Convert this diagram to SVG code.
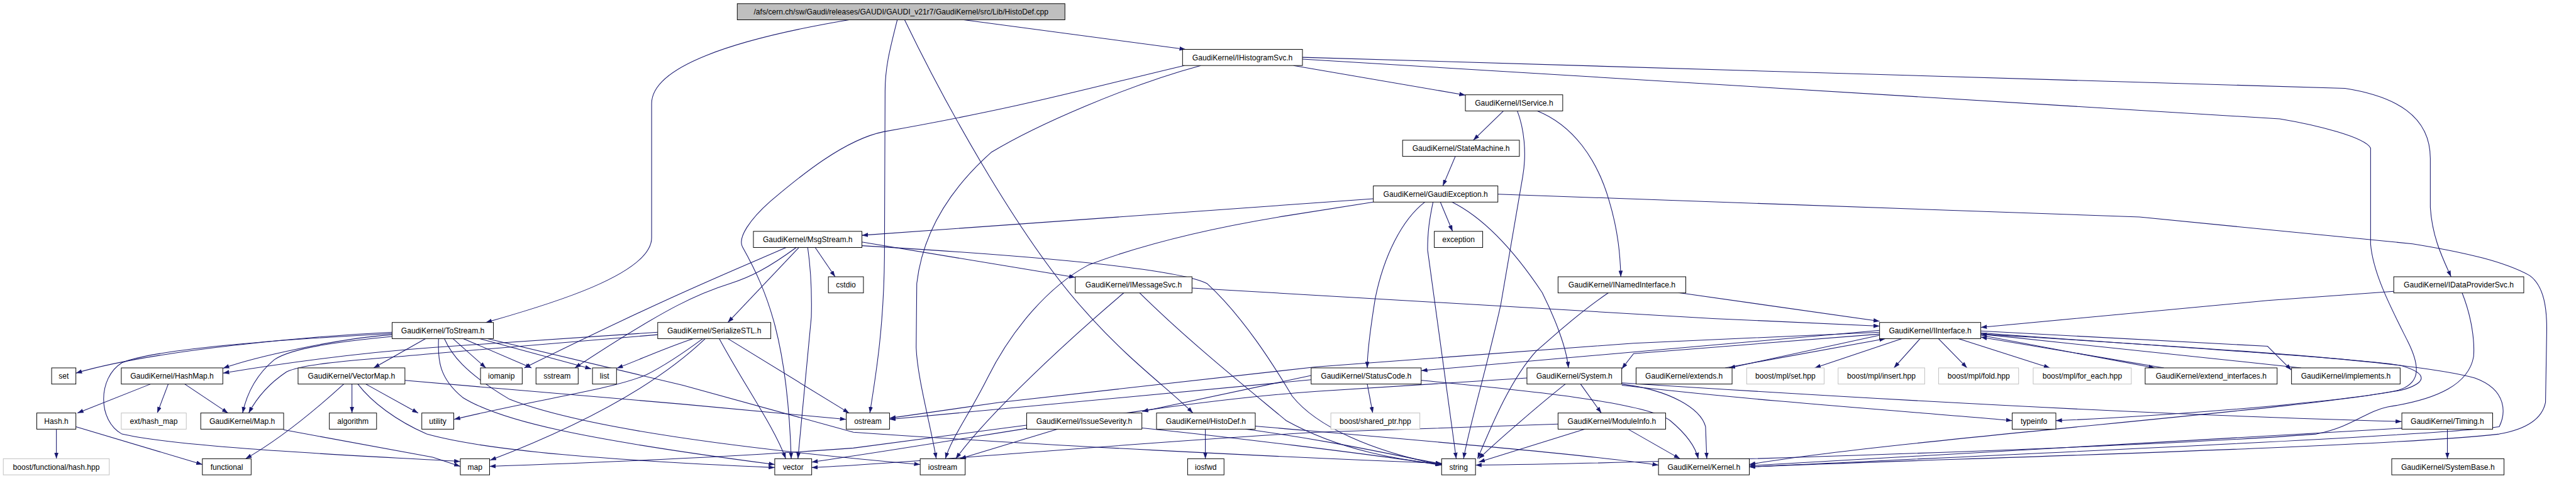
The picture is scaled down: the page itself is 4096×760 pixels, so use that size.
<svg xmlns="http://www.w3.org/2000/svg" width="4096" height="760" viewBox="0 0 4096 760">
<style>
.node rect{fill:#fff;stroke:#000;stroke-width:1}
.node.gray rect{stroke:#bfbfbf}
.node.root rect{fill:#bfbfbf}
.node text{font-family:"Liberation Sans","DejaVu Sans",Arial,sans-serif;font-size:12.5px;fill:#000;text-anchor:middle}
#edges path{fill:none;stroke:#191970;stroke-width:1.1;marker-end:url(#a)}
</style>
<defs>
<marker id="a" viewBox="0 0 10 7" refX="10" refY="3.5" markerWidth="10" markerHeight="7" orient="auto" markerUnits="userSpaceOnUse"><path d="M0,0L10,3.5L0,7z" fill="#191970"/></marker>
</defs>
<rect width="4096" height="760" fill="#fff"/>
<g transform="scale(0.96924)">
<g id="edges">
<path d="M1393,32.5 C1200,65 1069,110 1069,170 L1069,390 C1069,450 900,500 797,529"/>
<path d="M1472,32.5 C1460,80 1452,110 1452,150 L1451,420 C1450,540 1436,620 1427,677.5"/>
<path d="M1484,32.5 C1560,190 1680,400 1780,510 C1850,590 1920,640 1957,677.5"/>
<path d="M1581,32.5 L1945,81"/>
<path d="M2122,107.5 L2404,156"/>
<path d="M2136.7,94 L3847,145 C3930,158 3987,190 3987,260 L3987,340 C3990,390 4008,425 4021,454"/>
<path d="M2136.7,97 L3740,195 C3800,205 3880,225 3889,243 L3889,400 C3893,450 3925,510 3950,560 C3975,610 3965,630 3935,640 C3800,670 3100,722 2869.7,762"/>
<path d="M1943,107.5 C1776,147 1681,175 1450,216 C1380,230 1300,300 1264,330 C1230,360 1210,390 1218,405 C1260,480 1292,560 1298,752.5"/>
<path d="M1970,107.5 C1850,140 1700,205 1626,250 C1570,300 1515,370 1504,465 L1503,570 C1505,620 1525,690 1536,752.5"/>
<path d="M2467,181.5 L2417,230"/>
<path d="M2489,181.5 C2500,210 2505,250 2498,290 L2462,500 C2440,600 2410,700 2401,752.5"/>
<path d="M2521,181.5 C2580,205 2620,260 2640,330 C2655,380 2658,420 2659,454"/>
<path d="M2387.5,256.5 L2367,305"/>
<path d="M2362.7,331 L2383,379.5"/>
<path d="M2351,331 C2345,360 2342,380 2342,410 L2389,752.5"/>
<path d="M2338,331 C2300,360 2270,420 2256,490 C2248,540 2243,580 2243,603.5"/>
<path d="M2381,331 C2440,360 2490,420 2530,480 C2550,520 2570,570 2573,603.5"/>
<path d="M2457.3,318.5 L3510,356 L3958,400 C4050,415 4110,430 4150,452 C4175,470 4178,510 4178,540 L4176,660 C4170,690 4140,705 4100,712 C3900,735 3100,755 2869.7,766"/>
<path d="M2253,326 L1414,386"/>
<path d="M2253,331.5 L2110,354 C1950,380 1850,410 1785,435 C1720,470 1660,540 1620,620 C1590,680 1560,720 1551,752.5"/>
<path d="M1413.6,397 L1764,455"/>
<path d="M1413.6,403 C1700,420 1930,440 1980,465 C2040,520 2090,600 2120,650 C2160,700 2250,740 2365,763"/>
<path d="M1325,405.5 C1330,440 1332,480 1331,520 L1309,752.5"/>
<path d="M1337,405.5 L1370,454"/>
<path d="M1311,405.5 L1194,529"/>
<path d="M1291,405.5 C1200,445 1100,485 860,603.5"/>
<path d="M1307,405.5 C1260,440 1230,455 1198,465 C1150,480 1100,500 943,603.5"/>
<path d="M643.3,545 C500,552 250,575 124.5,612"/>
<path d="M643.3,549 C550,556 420,585 366,604"/>
<path d="M1079,545 L710,570 C600,578 500,590 366,612"/>
<path d="M643.3,552 C560,560 480,570 450,590 C420,615 405,645 398,677.5"/>
<path d="M1079,549 L710,580 C600,590 500,595 470,610 C440,630 420,655 408,677.5"/>
<path d="M698,555.5 L613,603.5"/>
<path d="M743,555.5 L797,603.5"/>
<path d="M760,555.5 L872,603.5"/>
<path d="M787,555.5 L970,605"/>
<path d="M800,555.5 L1120,632 L1400,709 C1700,730 2100,750 2365,760"/>
<path d="M719.5,555.5 C718,590 720,620 759,652 C820,690 950,720 1271,762"/>
<path d="M729,555.5 C740,580 760,610 836,655 C950,700 1200,735 1509.6,762"/>
<path d="M643.3,547 C500,555 260,570 200,595 C160,620 160,690 200,712 C300,735 600,748 755,757"/>
<path d="M465,705 L710,750 L755,765"/>
<path d="M564,630 C520,670 460,720 403,752.5"/>
<path d="M577.4,630 L577.4,677.5"/>
<path d="M600,630 L686,677.5"/>
<path d="M587,630 C610,660 650,690 700,712 C800,740 1000,755 1271,767"/>
<path d="M664,624 L1120,663 L1388,688"/>
<path d="M247,630 L127,677.5"/>
<path d="M276,630 L258,677.5"/>
<path d="M303,630 L374,677.5"/>
<path d="M92.5,704 L92.5,752.5"/>
<path d="M124.5,700 L332,762"/>
<path d="M1137,555.5 C1080,575 1050,590 1012,604"/>
<path d="M1153,555.5 C1120,580 1090,600 1060,615 C1000,640 880,655 745,688"/>
<path d="M1157,555.5 C1100,610 1000,680 804,755"/>
<path d="M1180,555.5 C1220,630 1270,700 1289,752.5"/>
<path d="M1194,555.5 L1393,677.5"/>
<path d="M1844,480 C1750,560 1620,680 1568,752.5"/>
<path d="M1869,480 C1950,560 2050,640 2110,690 C2200,740 2300,755 2365,762"/>
<path d="M1955.6,472.5 L2810,522.5 L3083.5,535"/>
<path d="M1735,704 L1575,752.5"/>
<path d="M1873.6,702 C2000,715 2250,745 2365,763"/>
<path d="M1684,697.5 L1400,735 C1200,750 950,760 803.2,765"/>
<path d="M1977.4,704 L1977.4,752.5"/>
<path d="M2043,704 C2200,725 2300,750 2365,761"/>
<path d="M2059.3,699 C2300,720 2600,745 2720.8,763"/>
<path d="M2151,616 L1873.6,675"/>
<path d="M2151,623 L1459.3,688"/>
<path d="M2243,630 L2252,677.5"/>
<path d="M2331.7,624 C2500,640 2700,660 2740,690 C2770,715 2782,735 2786,752.5"/>
<path d="M2593,630 L2627,677.5"/>
<path d="M2568,630 C2530,660 2460,720 2426,752.5"/>
<path d="M2660.6,630 C2740,640 2790,670 2798,700 L2800,752.5"/>
<path d="M2660.6,632 C2900,660 3200,680 3301,690"/>
<path d="M2660.6,628 C3000,650 3500,680 3940,691.5"/>
<path d="M2505,620 L2160,642 C1900,660 1600,720 1331.6,758"/>
<path d="M2600,704 L2426,758"/>
<path d="M2671,704 L2756,752.5"/>
<path d="M2556,695.7 L2160,709 C1800,730 1500,760 1331.6,767"/>
<path d="M4015,704 L4015,752.5"/>
<path d="M3940.3,702.5 C3500,725 3100,750 2869.7,764"/>
<path d="M3927,478 L3720,493 L3249.6,537"/>
<path d="M4039,480 C4055,520 4060,560 4058,585 C4050,630 4000,655 3917,667.5 C3880,675 3860,700 3800,712 C3500,735 2700,760 2420.6,763"/>
<path d="M2753,480 L3083.5,527"/>
<path d="M2639,480 C2580,520 2540,560 2521,575 C2480,620 2450,690 2424,752.5"/>
<path d="M3083.5,550 L2836.7,603.5"/>
<path d="M2830,603.5 L3093,555.5"/>
<path d="M3120,555.5 L2977,603.5"/>
<path d="M3150,555.5 L3107,603.5"/>
<path d="M3180,555.5 L3227,603.5"/>
<path d="M3213,555.5 L3363,603.5"/>
<path d="M3249.6,550 L3535,603.5"/>
<path d="M3550,603.5 L3249.6,553"/>
<path d="M3249.6,543 L3720,568 L3759,607"/>
<path d="M3775,603.5 L3249.6,548"/>
<path d="M3249.6,546 C3500,565 3900,590 3940,600 C3990,615 3975,630 3940,640 C3800,665 3500,685 3372.7,690"/>
<path d="M3249.6,548 C3600,570 3950,590 4060,620 C4115,640 4110,680 4100,700 C4000,715 3200,750 2869.7,766"/>
<path d="M3083.5,545 L2680,563 L2160,601.7 L1640,660 L1459.3,686"/>
<path d="M3083.5,542 L2331.7,608"/>
<path d="M3083.5,548 L2680,580 L2660.6,605"/>
</g>
<g id="n_root" class="node root"><rect x="1209.5" y="6" width="537.5" height="26.5"/><text x="1478.2" y="23.7">/afs/cern.ch/sw/Gaudi/releases/GAUDI/GAUDI_v21r7/GaudiKernel/src/Lib/HistoDef.cpp</text></g>
<g id="n_IHistogramSvc" class="node"><rect x="1940" y="81" width="196.7" height="26.5"/><text x="2038.3" y="98.7">GaudiKernel/IHistogramSvc.h</text></g>
<g id="n_IService" class="node"><rect x="2404" y="155.5" width="159.7" height="26.5"/><text x="2483.8" y="173.2">GaudiKernel/IService.h</text></g>
<g id="n_StateMachine" class="node"><rect x="2301" y="230" width="191.6" height="26.5"/><text x="2396.8" y="247.7">GaudiKernel/StateMachine.h</text></g>
<g id="n_GaudiException" class="node"><rect x="2253" y="305" width="204.3" height="26.5"/><text x="2355.1" y="322.7">GaudiKernel/GaudiException.h</text></g>
<g id="n_MsgStream" class="node"><rect x="1236" y="379.5" width="178" height="26.5"/><text x="1325" y="397.2">GaudiKernel/MsgStream.h</text></g>
<g id="n_exception" class="node"><rect x="2353" y="379.5" width="79.4" height="26.5"/><text x="2392.7" y="397.2">exception</text></g>
<g id="n_cstdio" class="node"><rect x="1359" y="454" width="57.5" height="26.5"/><text x="1387.7" y="471.7">cstdio</text></g>
<g id="n_IMessageSvc" class="node"><rect x="1764" y="454" width="191.5" height="26.5"/><text x="1859.7" y="471.7">GaudiKernel/IMessageSvc.h</text></g>
<g id="n_INamedInterface" class="node"><rect x="2556" y="454" width="209.6" height="26.5"/><text x="2660.8" y="471.7">GaudiKernel/INamedInterface.h</text></g>
<g id="n_IDataProviderSvc" class="node"><rect x="3927" y="454" width="213.3" height="26.5"/><text x="4033.6" y="471.7">GaudiKernel/IDataProviderSvc.h</text></g>
<g id="n_ToStream" class="node"><rect x="643.3" y="529" width="166.2" height="26.5"/><text x="726.4" y="546.7">GaudiKernel/ToStream.h</text></g>
<g id="n_SerializeSTL" class="node"><rect x="1079" y="529" width="185.5" height="26.5"/><text x="1171.7" y="546.7">GaudiKernel/SerializeSTL.h</text></g>
<g id="n_IInterface" class="node"><rect x="3083.5" y="529" width="166" height="26.5"/><text x="3166.5" y="546.7">GaudiKernel/IInterface.h</text></g>
<g id="n_set" class="node"><rect x="84.7" y="603.5" width="39.8" height="26.5"/><text x="104.6" y="621.2">set</text></g>
<g id="n_HashMap" class="node"><rect x="199" y="603.5" width="166.5" height="26.5"/><text x="282.2" y="621.2">GaudiKernel/HashMap.h</text></g>
<g id="n_VectorMap" class="node"><rect x="489" y="603.5" width="175.3" height="26.5"/><text x="576.6" y="621.2">GaudiKernel/VectorMap.h</text></g>
<g id="n_iomanip" class="node"><rect x="788.3" y="603.5" width="68.4" height="26.5"/><text x="822.5" y="621.2">iomanip</text></g>
<g id="n_sstream" class="node"><rect x="879.3" y="603.5" width="69.2" height="26.5"/><text x="913.9" y="621.2">sstream</text></g>
<g id="n_list" class="node"><rect x="972" y="603.5" width="39.4" height="26.5"/><text x="991.7" y="621.2">list</text></g>
<g id="n_StatusCode" class="node"><rect x="2151" y="603.5" width="180.5" height="26.5"/><text x="2241.2" y="621.2">GaudiKernel/StatusCode.h</text></g>
<g id="n_System" class="node"><rect x="2505" y="603.5" width="155.5" height="26.5"/><text x="2582.7" y="621.2">GaudiKernel/System.h</text></g>
<g id="n_extends" class="node"><rect x="2684" y="603.5" width="157.5" height="26.5"/><text x="2762.7" y="621.2">GaudiKernel/extends.h</text></g>
<g id="n_mplset" class="node gray"><rect x="2865.5" y="603.5" width="127" height="26.5"/><text x="2929" y="621.2">boost/mpl/set.hpp</text></g>
<g id="n_mplinsert" class="node gray"><rect x="3015.5" y="603.5" width="142" height="26.5"/><text x="3086.5" y="621.2">boost/mpl/insert.hpp</text></g>
<g id="n_mplfold" class="node gray"><rect x="3180.4" y="603.5" width="131.2" height="26.5"/><text x="3246" y="621.2">boost/mpl/fold.hpp</text></g>
<g id="n_mplforeach" class="node gray"><rect x="3335.5" y="603.5" width="161" height="26.5"/><text x="3416" y="621.2">boost/mpl/for_each.hpp</text></g>
<g id="n_extend_interfaces" class="node"><rect x="3519.2" y="603.5" width="216.5" height="26.5"/><text x="3627.4" y="621.2">GaudiKernel/extend_interfaces.h</text></g>
<g id="n_implements" class="node"><rect x="3759.3" y="603.5" width="178.2" height="26.5"/><text x="3848.4" y="621.2">GaudiKernel/implements.h</text></g>
<g id="n_Hash" class="node"><rect x="60.3" y="677.5" width="64.2" height="26.5"/><text x="92.4" y="695.2">Hash.h</text></g>
<g id="n_exthashmap" class="node gray"><rect x="199" y="677.5" width="106.6" height="26.5"/><text x="252.3" y="695.2">ext/hash_map</text></g>
<g id="n_Map" class="node"><rect x="329.3" y="677.5" width="136" height="26.5"/><text x="397.3" y="695.2">GaudiKernel/Map.h</text></g>
<g id="n_algorithm" class="node"><rect x="540.3" y="677.5" width="77.5" height="26.5"/><text x="579" y="695.2">algorithm</text></g>
<g id="n_utility" class="node"><rect x="692" y="677.5" width="52.4" height="26.5"/><text x="718.2" y="695.2">utility</text></g>
<g id="n_ostream" class="node"><rect x="1388.3" y="677.5" width="71" height="26.5"/><text x="1423.8" y="695.2">ostream</text></g>
<g id="n_IssueSeverity" class="node"><rect x="1684.3" y="677.5" width="189" height="26.5"/><text x="1778.8" y="695.2">GaudiKernel/IssueSeverity.h</text></g>
<g id="n_HistoDef" class="node"><rect x="1897.3" y="677.5" width="162" height="26.5"/><text x="1978.3" y="695.2">GaudiKernel/HistoDef.h</text></g>
<g id="n_sharedptr" class="node gray"><rect x="2183.3" y="677.5" width="146" height="26.5"/><text x="2256.3" y="695.2">boost/shared_ptr.hpp</text></g>
<g id="n_ModuleInfo" class="node"><rect x="2556" y="677.5" width="176.5" height="26.5"/><text x="2644.2" y="695.2">GaudiKernel/ModuleInfo.h</text></g>
<g id="n_typeinfo" class="node"><rect x="3301" y="677.5" width="71.7" height="26.5"/><text x="3336.8" y="695.2">typeinfo</text></g>
<g id="n_Timing" class="node"><rect x="3940.3" y="677.5" width="149" height="26.5"/><text x="4014.8" y="695.2">GaudiKernel/Timing.h</text></g>
<g id="n_hashhpp" class="node gray"><rect x="5.4" y="752.5" width="173.9" height="26.5"/><text x="92.3" y="770.2">boost/functional/hash.hpp</text></g>
<g id="n_functional" class="node"><rect x="332" y="752.5" width="80" height="26.5"/><text x="372" y="770.2">functional</text></g>
<g id="n_map" class="node"><rect x="755.2" y="752.5" width="48" height="26.5"/><text x="779.2" y="770.2">map</text></g>
<g id="n_vector" class="node"><rect x="1271" y="752.5" width="60.6" height="26.5"/><text x="1301.3" y="770.2">vector</text></g>
<g id="n_iostream" class="node"><rect x="1509.6" y="752.5" width="73.8" height="26.5"/><text x="1546.5" y="770.2">iostream</text></g>
<g id="n_iosfwd" class="node"><rect x="1948.3" y="752.5" width="59.7" height="26.5"/><text x="1978.1" y="770.2">iosfwd</text></g>
<g id="n_string" class="node"><rect x="2365" y="752.5" width="55.6" height="26.5"/><text x="2392.8" y="770.2">string</text></g>
<g id="n_Kernel" class="node"><rect x="2720.8" y="752.5" width="149" height="26.5"/><text x="2795.3" y="770.2">GaudiKernel/Kernel.h</text></g>
<g id="n_SystemBase" class="node"><rect x="3923.7" y="752.5" width="184.2" height="26.5"/><text x="4015.8" y="770.2">GaudiKernel/SystemBase.h</text></g>
</g>
</svg>
